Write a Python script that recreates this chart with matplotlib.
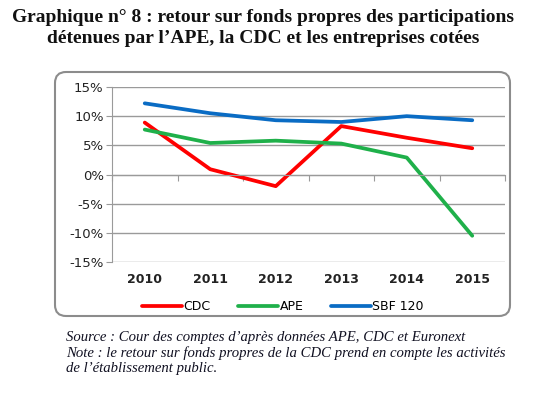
import numpy as np
import matplotlib
matplotlib.use("Agg")
import matplotlib.pyplot as plt
from matplotlib.patches import FancyBboxPatch

years = ["2010", "2011", "2012", "2013", "2014", "2015"]
cdc = [8.9, 0.9, -2.0, 8.3, 6.3, 4.5]
ape = [7.7, 5.4, 5.8, 5.3, 2.9, -10.5]
sbf = [12.2, 10.5, 9.3, 9.0, 10.0, 9.3]
yticks = [15, 10, 5, 0, -5, -10, -15]

W, H = 551, 396
fig = plt.figure(figsize=(W / 100, H / 100), dpi=100)

# rounded frame around the chart
frame = FancyBboxPatch((55 / W, 1 - 316 / H), 455 / W, 244 / H,
                       boxstyle="round,pad=0,rounding_size=0.02",
                       mutation_aspect=W / H, transform=fig.transFigure,
                       facecolor="none", edgecolor="#8c8c8c", lw=1.5,
                       zorder=-1)
fig.patches.append(frame)

ax = fig.add_axes([112 / W, 1 - 262 / H, 393 / W, 175 / H])
ax.patch.set_alpha(0)
x = np.arange(len(years))
ax.plot(x, cdc, color="#ff0000", lw=2.7, label="CDC", solid_capstyle="round")
ax.plot(x, ape, color="#1fb04a", lw=2.7, label="APE", solid_capstyle="round")
ax.plot(x, sbf, color="#0a6cc4", lw=2.7, label="SBF 120", solid_capstyle="round")

ax.set_xlim(-0.5, len(years) - 0.5)
ax.set_ylim(-15, 15)
ax.set_yticks(yticks)
ax.set_yticklabels([f"{v}%" for v in yticks], fontsize=9.5, color="#222222")
ax.yaxis.grid(True, color="#9a9a9a", lw=1)
ax.set_axisbelow(True)
ax.tick_params(axis="y", length=4, color="#9a9a9a", pad=2)

for s in ["top", "right"]:
    ax.spines[s].set_visible(False)
ax.spines["left"].set_color("#9a9a9a")
ax.spines["bottom"].set_position(("data", 0))
ax.spines["bottom"].set_color("#9a9a9a")
ax.set_xticks(np.arange(-0.5, len(years), 1))
ax.set_xticklabels([])
ax.tick_params(axis="x", length=4, color="#9a9a9a", direction="out")

sec = ax.secondary_xaxis(0.0)
sec.set_xticks(x)
sec.set_xticklabels(years, fontsize=9, fontweight="bold", color="#222222")
sec.tick_params(length=0, pad=8)
sec.spines["bottom"].set_visible(False)

fig.legend(loc="center", bbox_to_anchor=(283 / W, 1 - 307 / H), ncol=3,
           frameon=False, fontsize=9, handlelength=3.2, handletextpad=0.1,
           columnspacing=2.2)

fig.text(0.478, 1 - 9 / H,
         "Graphique n° 8 : retour sur fonds propres des participations\n"
         "détenues par l\u2019APE, la CDC et les entreprises cotées",
         ha="center", va="top", fontsize=14, fontweight="bold",
         family="Liberation Serif", linespacing=1.28, color="#111111")

fig.text(66 / W, 1 - 331 / H,
         "Source : Cour des comptes d\u2019après données APE, CDC et Euronext\n"
         "Note : le retour sur fonds propres de la CDC prend en compte les activités\n"
         "de l\u2019établissement public.",
         ha="left", va="top", fontsize=10.6, style="italic",
         family="Liberation Serif", linespacing=1.2, color="#111122")

fig.savefig("out.png", dpi=100)
